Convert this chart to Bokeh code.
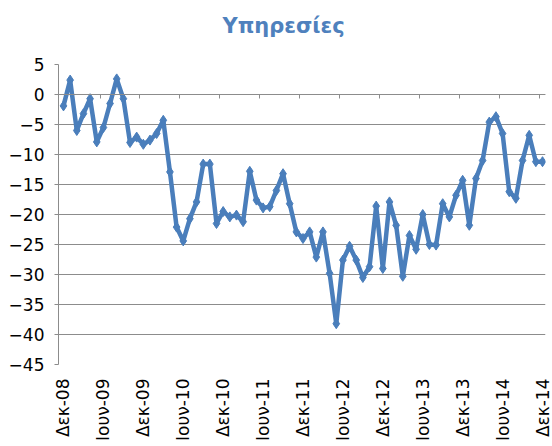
import math
from bokeh.plotting import figure
from bokeh.models import LinearAxis, FixedTicker, Range1d, Title
from bokeh.embed import file_html
from bokeh.resources import INLINE

# Monthly values, Dec-08 .. Dec-14
values = [
    -1.9, 2.4, -6.0, -3.2, -0.7, -7.9, -5.5, -1.5, 2.6, -0.7, -8.0, -7.1,
    -8.3, -7.6, -6.5, -4.3, -12.9, -22.1, -24.4, -20.7, -17.9, -11.6, -11.6, -21.5,
    -19.5, -20.4, -20.1, -21.2, -12.8, -17.6, -18.9, -18.7, -16.0, -13.2, -18.2, -22.9,
    -24.0, -22.9, -27.1, -22.9, -29.8, -38.2, -27.6, -25.3, -27.6, -30.5, -28.7, -18.6,
    -29.0, -17.9, -21.8, -30.3, -23.5, -25.8, -20.0, -25.0, -25.1, -18.2, -20.4, -16.8,
    -14.3, -21.8, -14.0, -11.0, -4.6, -3.7, -6.5, -16.2, -17.3, -11.0, -6.8, -11.2,
    -11.2,
]
months = list(range(len(values)))  # month index starting at Dec-08

title_text = "Υπηρεσίες"
tick_labels = ["Δεκ-08", "Ιουν-09", "Δεκ-09", "Ιουν-10", "Δεκ-10", "Ιουν-11",
               "Δεκ-11", "Ιουν-12", "Δεκ-12", "Ιουν-13", "Δεκ-13", "Ιουν-14", "Δεκ-14"]
tick_positions = [0, 6, 12, 18, 24, 30, 36, 42, 48, 54, 60, 66, 72]
y_ticks = [-45, -40, -35, -30, -25, -20, -15, -10, -5, 0, 5]
boundaries = [p + 5.5 for p in tick_positions[:-1]]

BLUE = "#4A7EBB"
GRAY = "#8C8C8C"
FONT = "DejaVu Sans"

p = figure(width=552, height=446,
           x_range=Range1d(-0.75, 72.45), y_range=Range1d(-45, 5),
           output_backend="svg", toolbar_location=None,
           min_border_left=58, min_border_right=7,
           min_border_top=64, min_border_bottom=82,
           title_location=None)

p.outline_line_color = None
p.background_fill_color = "white"
p.border_fill_color = "white"

# y axis
p.yaxis.ticker = FixedTicker(ticks=y_ticks)
p.yaxis.axis_line_color = GRAY
p.yaxis.major_tick_line_color = GRAY
p.yaxis.major_tick_out = 4
p.yaxis.major_tick_in = 0
p.yaxis.minor_tick_line_color = None
p.yaxis.major_label_standoff = 10
p.yaxis.major_label_text_font = FONT
p.yaxis.major_label_text_font_size = "17px"
p.yaxis.major_label_text_color = "black"

p.ygrid.grid_line_color = GRAY
p.ygrid.grid_line_width = 1
p.xgrid.visible = False

# x axis labels at the bottom
p.xaxis.ticker = FixedTicker(ticks=tick_positions)
p.xaxis.major_label_overrides = {t: l for t, l in zip(tick_positions, tick_labels)}
p.xaxis.major_label_orientation = math.pi / 2
p.xaxis.axis_line_color = None
p.xaxis.major_tick_line_color = None
p.xaxis.minor_tick_line_color = None
p.xaxis.major_tick_out = 0
p.xaxis.major_tick_in = 0
p.xaxis.major_label_standoff = 14
p.xaxis.major_label_text_font = FONT
p.xaxis.major_label_text_font_size = "17px"
p.xaxis.major_label_text_color = "black"

# horizontal axis line crossing at zero with tick marks
zero_axis = LinearAxis(fixed_location=0, ticker=FixedTicker(ticks=boundaries),
                       major_label_overrides={b: "" for b in boundaries},
                       major_label_text_font_size="1px",
                       major_label_standoff=0,
                       major_tick_in=4, major_tick_out=0,
                       axis_line_color=GRAY, major_tick_line_color=GRAY,
                       minor_tick_line_color=None)
p.add_layout(zero_axis, "above")

# spacer between the frame and the title
spacer = Title(text=" ", text_font_size="1px", standoff=19)
p.add_layout(spacer, "above")

title = Title(text=title_text, text_font=FONT, text_font_size="21px",
              text_font_style="bold", text_color="#4F81BD",
              align="left", offset=164, standoff=10)
p.add_layout(title, "above")

p.line(months, values, line_color=BLUE, line_width=4.5, line_join="round")
p.scatter(months, values, marker="diamond", size=10,
          fill_color=BLUE, line_color=BLUE)

open("out.html", "w").write(file_html(p, INLINE))
